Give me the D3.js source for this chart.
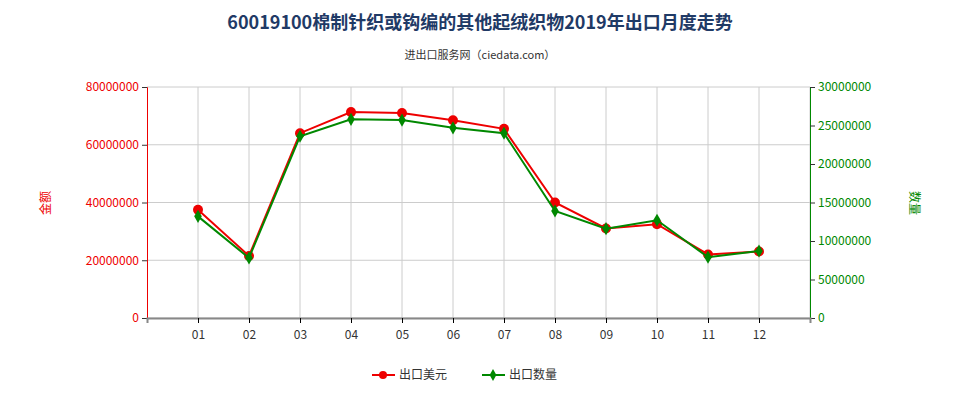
<!DOCTYPE html>
<html><head><meta charset="utf-8">
<script src="https://cdn.jsdelivr.net/npm/d3@7"></script>
<style>body{margin:0;background:#fff}text{font-family:"Noto Sans CJK SC","DejaVu Sans",sans-serif}</style>
</head><body><div id="chart"></div>
<script>
const months = ['01','02','03','04','05','06','07','08','09','10','11','12'];
const exportValue = [37500000,21500000,64000000,71300000,71000000,68500000,65500000,40000000,31000000,32500000,22000000,23000000];
const exportQty = [13200000,7800000,23600000,25800000,25700000,24700000,24000000,13900000,11600000,12700000,7900000,8700000];
const leftTicks = [0,20000000,40000000,60000000,80000000];
const rightTicks = [0,5000000,10000000,15000000,20000000,25000000,30000000];

const width = 960, height = 400;
const svg = d3.select('#chart').append('svg').attr('width', width).attr('height', height);
const x0 = 147, x1 = 810, yTop = 87, yBot = 318;
const x = d3.scaleLinear().domain([0, 13]).range([x0, x1]);
const yL = d3.scaleLinear().domain([0, 80000000]).range([yBot, yTop]);
const yR = d3.scaleLinear().domain([0, 30000000]).range([yBot, yTop]);

// grid
svg.append('g').selectAll('line').data(leftTicks).join('line')
    .attr('x1', x0).attr('x2', x1).attr('y1', d => yL(d)).attr('y2', d => yL(d))
    .attr('stroke', '#ccc');
svg.append('g').selectAll('line').data(months).join('line')
    .attr('x1', (d, i) => x(i + 1)).attr('x2', (d, i) => x(i + 1))
    .attr('y1', yTop).attr('y2', yBot).attr('stroke', '#ccc');
svg.append('line').attr('x1', x1).attr('x2', x1).attr('y1', yTop).attr('y2', yBot).attr('stroke', '#ccc');

// axes
const left = svg.append('g').attr('transform', `translate(${x0},0)`)
    .call(d3.axisLeft(yL).tickValues(leftTicks).tickFormat(d3.format('d')).tickSize(5));
left.select('.domain').attr('stroke', '#e00');
left.selectAll('.tick line').attr('stroke', '#333');
left.selectAll('text').attr('fill', '#e00').style('font-size', '12px');

const right = svg.append('g').attr('transform', `translate(${x1},0)`)
    .call(d3.axisRight(yR).tickValues(rightTicks).tickFormat(d3.format('d')).tickSize(5));
right.select('.domain').attr('stroke', '#080');
right.selectAll('.tick line').attr('stroke', '#333');
right.selectAll('text').attr('fill', '#080').style('font-size', '12px');

const bottom = svg.append('g').attr('transform', `translate(0,${yBot})`)
    .call(d3.axisBottom(x).tickValues(d3.range(1, 13)).tickFormat(d => months[d - 1]).tickSize(5));
bottom.select('.domain').attr('stroke', '#888').attr('stroke-width', 2);
bottom.selectAll('text').attr('fill', '#333').style('font-size', '12px').attr('dy', '1.1em');

// lines
const lineL = d3.line().x((d, i) => x(i + 1)).y(d => yL(d));
const lineR = d3.line().x((d, i) => x(i + 1)).y(d => yR(d));
svg.append('path').attr('d', lineL(exportValue)).attr('fill', 'none').attr('stroke', '#e00').attr('stroke-width', 2);
svg.append('g').selectAll('circle').data(exportValue).join('circle')
    .attr('cx', (d, i) => x(i + 1)).attr('cy', d => yL(d)).attr('r', 5).attr('fill', '#e00');
svg.append('path').attr('d', lineR(exportQty)).attr('fill', 'none').attr('stroke', '#080').attr('stroke-width', 2);
svg.append('g').selectAll('path').data(exportQty).join('path')
    .attr('d', d3.symbol(d3.symbolDiamond, 50))
    .attr('transform', (d, i) => `translate(${x(i + 1)},${yR(d)})`).attr('fill', '#080');

// titles
svg.append('text').attr('x', 480).attr('y', 29).attr('text-anchor', 'middle')
    .style('font-size', '18px').style('font-weight', 'bold').attr('fill', '#1f3a66')
    .text('60019100棉制针织或钩编的其他起绒织物2019年出口月度走势');
svg.append('text').attr('x', 480).attr('y', 59).attr('text-anchor', 'middle')
    .style('font-size', '11px').attr('fill', '#333').text('进出口服务网（ciedata.com）');
svg.append('text').attr('transform', 'translate(50,203) rotate(-90)').attr('text-anchor', 'middle')
    .style('font-size', '12px').attr('fill', '#e00').text('金额');
svg.append('text').attr('transform', 'translate(910,203) rotate(90)').attr('text-anchor', 'middle')
    .style('font-size', '12px').attr('fill', '#080').text('数量');

// legend
const lg = svg.append('g').attr('transform', 'translate(0,375)');
lg.append('line').attr('x1', 372).attr('x2', 395).attr('stroke', '#e00').attr('stroke-width', 2);
lg.append('circle').attr('cx', 383).attr('r', 4).attr('fill', '#e00');
lg.append('text').attr('x', 399).attr('y', 4).style('font-size', '12px').attr('fill', '#333').text('出口美元');
lg.append('line').attr('x1', 482).attr('x2', 505).attr('stroke', '#080').attr('stroke-width', 2);
lg.append('path').attr('d', d3.symbol(d3.symbolDiamond, 40)).attr('transform', 'translate(493,0)').attr('fill', '#080');
lg.append('text').attr('x', 509).attr('y', 4).style('font-size', '12px').attr('fill', '#333').text('出口数量');
</script></body></html>
